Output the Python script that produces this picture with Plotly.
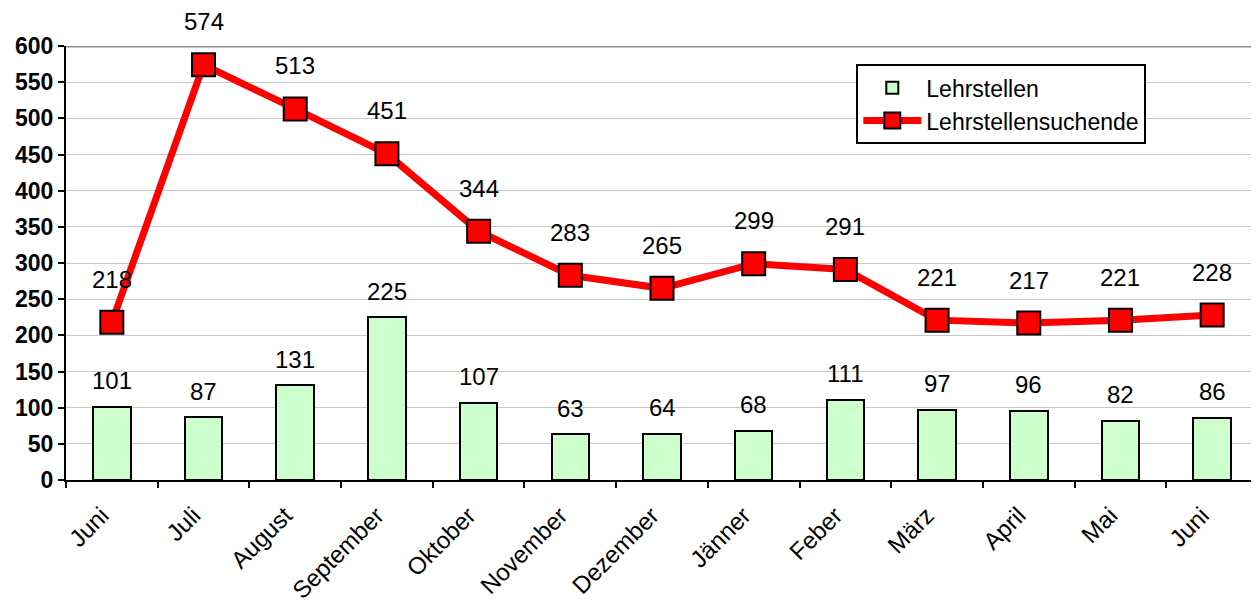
import plotly.graph_objects as go

monate = ["Juni", "Juli", "August", "September", "Oktober", "November", "Dezember",
          "Jänner", "Feber", "März", "April", "Mai", "Juni"]
lehrstellen = [101, 87, 131, 225, 107, 63, 64, 68, 111, 97, 96, 82, 86]
suchende = [218, 574, 513, 451, 344, 283, 265, 299, 291, 221, 217, 221, 228]
y_ticks = list(range(0, 601, 50))

x = list(range(len(monate)))
schrift = "Liberation Sans, Arial, sans-serif"

fig = go.Figure()

# Balken: Lehrstellen
fig.add_trace(go.Bar(
    x=x, y=lehrstellen, name="Lehrstellen", width=0.41,
    marker=dict(color="#ccffcc", line=dict(color="black", width=2)),
))

# Linie: Lehrstellensuchende
fig.add_trace(go.Scatter(
    x=x, y=suchende, name="Lehrstellensuchende", mode="lines+markers",
    line=dict(color="#ff0000", width=7),
    marker=dict(symbol="square", size=23, color="#ff0000", line=dict(color="black", width=2)),
))

# Beschriftungen
for i in x:
    fig.add_annotation(x=i, y=lehrstellen[i], text=str(lehrstellen[i]), showarrow=False,
                       yshift=26, font=dict(size=24, color="black", family=schrift))
    fig.add_annotation(x=i, y=suchende[i], text=str(suchende[i]), showarrow=False,
                       yshift=43, font=dict(size=24, color="black", family=schrift))

# Hilfsachse für Tickmarken an den Kategoriegrenzen
fig.add_trace(go.Scatter(x=[-0.5, 12.5], y=[None, None], xaxis="x2", showlegend=False,
                         hoverinfo="skip"))

# die Seite hat 8px Rand, daher kleinere Figur
fig.update_layout(
    width=1251, height=595,
    margin=dict(l=58, r=1, t=38, b=123),
    plot_bgcolor="white", paper_bgcolor="white",
    font=dict(family=schrift, color="black"),
    bargap=0,
    xaxis=dict(range=[-0.5, 12.5], tickvals=x, ticktext=monate, tickangle=-45,
               ticks="", showgrid=False, zeroline=False, automargin=False,
               showline=True, linecolor="black", linewidth=2,
               ticklabelstandoff=10, ticklabelshift=-10,
               tickfont=dict(size=24, family=schrift)),
    xaxis2=dict(range=[-0.5, 12.5], overlaying="x", anchor="y", side="bottom",
                tickvals=[v - 0.5 for v in range(len(monate) + 1)],
                ticks="outside", ticklen=7, tickwidth=2, tickcolor="black",
                showticklabels=False, showgrid=False, zeroline=False, automargin=False),
    yaxis=dict(range=[0, 600], tickvals=y_ticks, ticks="outside", ticklen=6,
               tickwidth=2, tickcolor="black", automargin=False,
               showline=True, linecolor="black", linewidth=2,
               gridcolor="#c8c8c8", gridwidth=1, zeroline=False,
               tickfont=dict(size=23, family="Liberation Sans, Arial", weight="bold")),
    legend=dict(x=0.663, y=0.958, xanchor="left", yanchor="top",
                bgcolor="white", bordercolor="black", borderwidth=2,
                font=dict(size=23, family=schrift), itemwidth=58,
                tracegroupgap=0),
    shapes=[dict(type="line", xref="paper", yref="y", x0=0, x1=1, y0=600, y1=600,
                 line=dict(color="#909090", width=3))],
)

fig.write_html("out.html")
